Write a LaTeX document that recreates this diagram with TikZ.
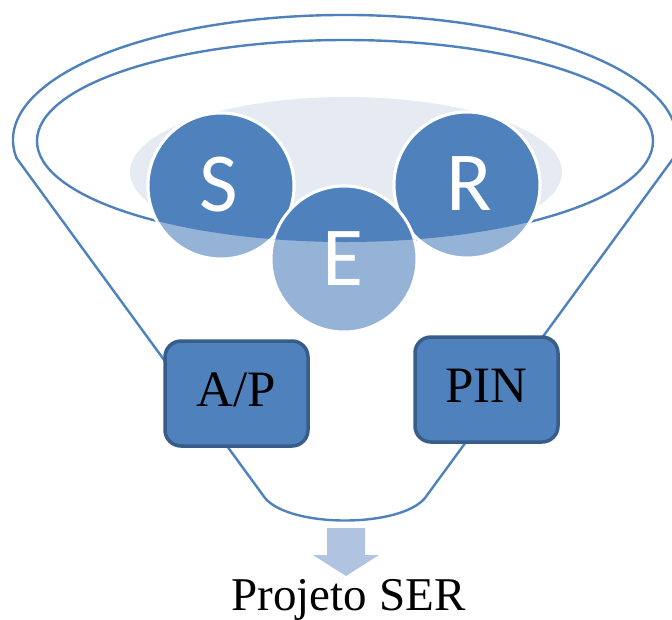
\documentclass[tikz,border=0pt]{standalone}
\usepackage{fontspec}
\newfontfamily\serifface{Liberation Serif}
\newfontfamily\letterface{Carlito}
\definecolor{ser}{HTML}{4F81BD}
\definecolor{serlight}{HTML}{95B3D7}
\definecolor{serpale}{HTML}{E5EAF3}
\definecolor{serdark}{HTML}{385D8A}
\definecolor{arrowfill}{HTML}{B0C3E0}
\tikzset{
  funnel/.style={draw=ser, line width=2.4},
  ball/.style={circle, minimum size=146, inner sep=0, draw=white, line width=3},
  letter/.style={text=white, inner sep=0, font=\letterface\fontsize{84}{84}\selectfont},
  box/.style={draw=serdark, fill=ser, line width=3.5, rounded corners=16,
    minimum width=143, minimum height=105, inner sep=0,
    text height=34, text depth=9,
    font=\serifface\fontsize{51}{51}\selectfont},
}
\begin{document}
\begin{tikzpicture}[x=1pt,y=-1pt]
\useasboundingbox (0,0) rectangle (672,619);
\clip (0,0) rectangle (672,619);

% funnel body: wide rim, straight sides, rounded spout
\draw[funnel] (16.5,158)
  arc[start angle=171.7, end angle=368.3, x radius=332, y radius=125]
  -- (425,498) .. controls (400,528) and (290,528) .. (265,498) -- cycle;

% pale pool inside the rim
\begin{scope}
  \clip (345,141) ellipse[x radius=308, y radius=101];
  \fill[serpale] (346,172) ellipse[x radius=216, y radius=75];
\end{scope}
\draw[funnel] (345,141) ellipse[x radius=308, y radius=101];

% the three balls: faded below the rim line, full colour inside it
\node[ball, fill=serlight] at (221,186) {};
\node[ball, fill=serlight] at (467,185) {};
\node[ball, fill=serlight] at (344,259) {};
\begin{scope}
  \clip (345,141) ellipse[x radius=308, y radius=101];
  \node[ball, fill=ser] (S) at (221,186) {};
  \node[ball, fill=ser] (R) at (467,185) {};
  \node[ball, fill=ser] (E) at (344,259) {};
\end{scope}
\node[letter] (lS) at (219,185) {S};
\node[letter] (lR) at (469,184) {R};
\node[letter] (lE) at (343,259) {E};

% side boxes
\node[box] (AP) at (236.5,393.5) {A/P};
\node[box] (PIN) at (486.5,389.5) {PIN};

% outflow arrow and caption
\fill[arrowfill] (327,528) -- (365,528) -- (365,555) -- (379,555)
  -- (346,576) -- (313,555) -- (327,555) -- cycle;
\node[anchor=base, inner sep=0, font=\serifface\fontsize{47}{47}\selectfont]
  (title) at (348.5,610) {Projeto SER};
\end{tikzpicture}
\end{document}
